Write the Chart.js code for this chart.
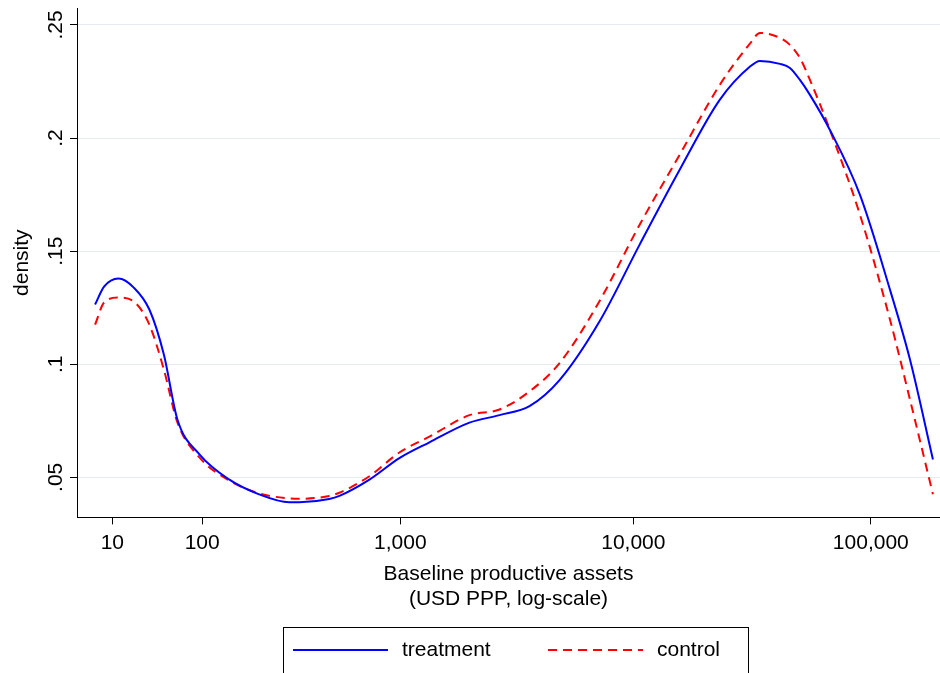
<!DOCTYPE html>
<html><head><meta charset="utf-8">
<script src="https://cdn.jsdelivr.net/npm/chart.js@4.4.0/dist/chart.umd.min.js"></script>
<style>html,body{margin:0;padding:0;background:#fff}#wrap{width:940px;height:673px}</style>
</head><body><div id="wrap"><canvas id="c" width="940" height="673"></canvas></div>
<script>
const xUSD=[0,5,14,25,38,52,67,96,146,214,305,342,475,530,727,990,1343,2004,2699,3626,4868,7199,10631,15687,23136,30955,34170,41480,45680,50350,55460,67300,90030,120360,146100,182500];
const treatment=[0.1264,0.1343,0.1379,0.1339,0.1242,0.1043,0.0756,0.0602,0.0491,0.0425,0.039,0.039,0.0404,0.0418,0.0490,0.0585,0.0655,0.0742,0.0775,0.0815,0.0930,0.1190,0.1529,0.186,0.2169,0.2315,0.2341,0.2328,0.231,0.2257,0.2191,0.2036,0.1749,0.133,0.1021,0.0579];
const control=[0.1175,0.1273,0.1295,0.1277,0.1175,0.0977,0.0743,0.0588,0.0487,0.0429,0.0407,0.0405,0.0418,0.0432,0.0505,0.0610,0.0680,0.0775,0.0800,0.0880,0.1005,0.1280,0.1617,0.1926,0.2235,0.2416,0.2465,0.2443,0.2412,0.2354,0.2257,0.2036,0.1661,0.1198,0.0844,0.0425];
const xTickValues=[10,100,1000,10000,100000];
const xTickLabels=['10','100','1,000','10,000','100,000'];
const yTickValues=[0.05,0.1,0.15,0.2,0.25];
const yTickLabels=['.05','.1','.15','.2','.25'];
const SHIFT=55;
const tx=v=>Math.log10(v+SHIFT);
const FONT='"Liberation Sans", Arial, sans-serif';
const mk=(arr)=>arr.map((y,i)=>({x:tx(xUSD[i]),y}));
const extra={id:'extra',afterDraw(ch){
  const c=ch.ctx,y=ch.scales.y,a=ch.chartArea;
  c.save();c.fillStyle='#000';c.font='21px '+FONT;c.textAlign='center';c.textBaseline='bottom';
  yTickValues.forEach((v,i)=>{const py=y.getPixelForValue(v);c.save();c.translate(a.left-10,py);c.rotate(-Math.PI/2);c.fillText(yTickLabels[i],0,0);c.restore();});
  c.save();c.translate(22,(a.top+a.bottom)/2);c.rotate(-Math.PI/2);c.textBaseline='middle';c.fillText('density',0,0);c.restore();
  const bx=283,by=627,bw=465,bh=46;
  c.strokeStyle='#000';c.lineWidth=1;c.strokeRect(bx+0.5,by+0.5,bw,bh);
  c.textAlign='left';c.textBaseline='middle';const ly=by+bh/2;
  c.lineWidth=2;c.strokeStyle='#0000ff';c.beginPath();c.moveTo(293,ly);c.lineTo(388,ly);c.stroke();
  c.fillText('treatment',402,ly);
  c.strokeStyle='#ff0000';c.setLineDash([9,6]);c.beginPath();c.moveTo(548,ly);c.lineTo(643,ly);c.stroke();c.setLineDash([]);
  c.fillText('control',657,ly);
  c.restore();
}};
new Chart(document.getElementById('c'),{type:'scatter',
 data:{datasets:[
  {label:'treatment',data:mk(treatment),showLine:true,borderColor:'#0000ff',borderWidth:2,pointRadius:0,cubicInterpolationMode:'monotone'},
  {label:'control',data:mk(control),showLine:true,borderColor:'#ff0000',borderWidth:2,borderDash:[9,6],pointRadius:0,cubicInterpolationMode:'monotone'}]},
 options:{responsive:false,animation:false,
  layout:{padding:{left:70,right:0,top:8,bottom:61}},
  plugins:{legend:{display:false},tooltip:{enabled:false}},
  scales:{
   x:{type:'linear',min:1.6644,max:5.291,
    afterBuildTicks:s=>{s.ticks=xTickValues.map(v=>({value:tx(v)}));},
    ticks:{autoSkip:false,maxRotation:0,color:'#000',font:{family:FONT,size:21},padding:6,callback:(v,i)=>xTickLabels[i]},
    grid:{drawOnChartArea:false,drawTicks:true,tickLength:7,tickColor:'#000'},
    border:{color:'#000',width:1},
    title:{display:true,text:['Baseline productive assets','(USD PPP, log-scale)'],color:'#000',font:{family:FONT,size:21,lineHeight:1.2},padding:{top:0,bottom:0}}},
   y:{type:'linear',min:0.0323,max:0.2575,
    afterBuildTicks:s=>{s.ticks=yTickValues.map(v=>({value:v}));},
    ticks:{display:false},
    grid:{color:'#e4ecef',lineWidth:1,drawTicks:true,tickLength:7,tickColor:'#000'},
    border:{color:'#000',width:1}}
  }},
 plugins:[extra]});
</script></body></html>
